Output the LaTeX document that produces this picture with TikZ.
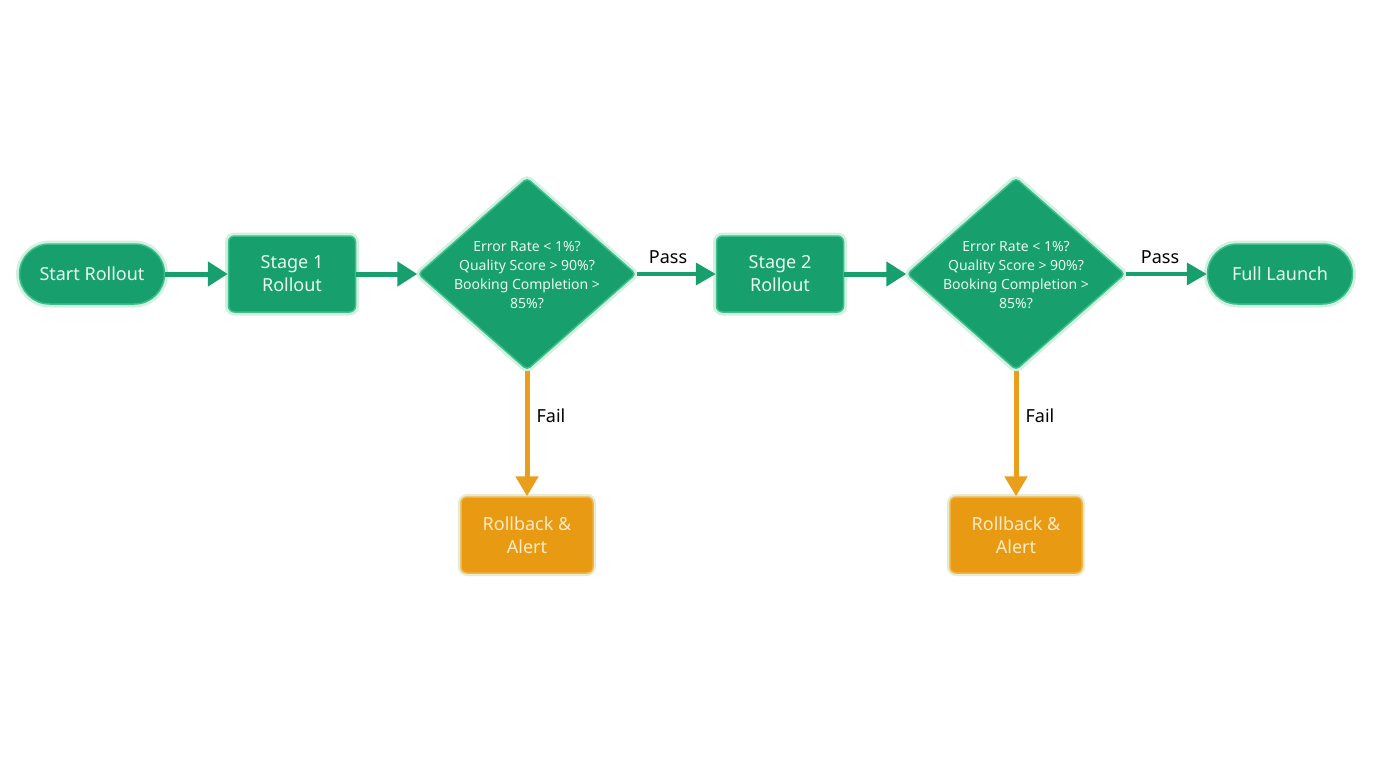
\documentclass[tikz,border=0pt]{standalone}
\usepackage{fontspec}
\setmainfont{Noto Sans}
\usetikzlibrary{shapes.geometric,arrows.meta}
\definecolor{gfill}{HTML}{17A06D}
\definecolor{gedge}{HTML}{3CBF8A}
\definecolor{gglow}{HTML}{BFEBD6}
\definecolor{gtext}{HTML}{EAF9F1}
\definecolor{ofill}{HTML}{E89A13}
\definecolor{oedge}{HTML}{F2B443}
\definecolor{otext}{HTML}{FCEBC6}
\definecolor{oline}{HTML}{EA9F1C}
\tikzset{
  glowg/.style={preaction={draw=gglow,line width=7pt,opacity=0.7}},
  glowo/.style={preaction={draw=gglow!70!oedge,line width=6pt,opacity=0.5}},
  pill/.style={draw=gedge,line width=1.5pt,fill=gfill,glowg,rounded corners=30pt,
    minimum width=145pt,minimum height=60pt,text=gtext,font=\fontsize{18}{21}\selectfont,inner sep=0pt},
  stagebox/.style={draw=gedge,line width=1.5pt,fill=gfill,glowg,rounded corners=6pt,
    minimum width=127pt,minimum height=76pt,text=gtext,font=\fontsize{18}{23}\selectfont,align=center,inner sep=0pt},
  decide/.style={diamond,draw=gedge,line width=1.5pt,fill=gfill,glowg,rounded corners=4pt,
    minimum width=218pt,minimum height=192pt,inner sep=0pt},
  decidetext/.style={text=gtext,font=\fontsize{14}{19}\selectfont,align=center,inner sep=0pt},
  alertbox/.style={draw=oedge,line width=1.5pt,fill=ofill,glowo,rounded corners=6pt,
    minimum width=132pt,minimum height=76pt,text=otext,font=\fontsize{18}{23}\selectfont,align=center,inner sep=0pt},
  garrow/.style={draw=gfill,line width=5pt,-{Triangle[length=20pt,width=24pt]}},
  parrow/.style={draw=gfill,line width=4pt,-{Triangle[length=20pt,width=22pt]}},
  oarrow/.style={draw=oline,line width=5pt,-{Triangle[length=20pt,width=22pt]}},
  edgelabel/.style={text=black,font=\fontsize{18}{20}\selectfont,inner sep=0pt},
}
\begin{document}
\begin{tikzpicture}[x=1pt,y=-1pt]
\useasboundingbox (0,0) rectangle (1376,768);
\fill[white] (0,0) rectangle (1376,768);
\node[pill] (start) at (92,274) {Start Rollout};
\node[stagebox] (s1) at (292,274) {Stage 1\\Rollout};
\node[decide] (d1) at (527,274) {};
\node[decidetext] (d1t) at (527,275) {Error Rate < 1\%?\\Quality Score > 90\%?\\Booking Completion >\\85\%?};
\node[stagebox] (s2) at (780,274) {Stage 2\\Rollout};
\node[decide] (d2) at (1016,274) {};
\node[decidetext] (d2t) at (1016,275) {Error Rate < 1\%?\\Quality Score > 90\%?\\Booking Completion >\\85\%?};
\node[pill] (full) at (1280,274) {Full Launch};
\node[alertbox] (r1) at (527,535) {Rollback \&\\Alert};
\node[alertbox] (r2) at (1016,535) {Rollback \&\\Alert};
\draw[garrow] (start.east) -- (s1.west);
\draw[garrow] (s1.east) -- (d1.west);
\draw[parrow] (d1.east) -- (s2.west);
\draw[garrow] (s2.east) -- (d2.west);
\draw[parrow] (d2.east) -- (full.west);
\draw[oarrow] (d1.south) -- (r1.north);
\draw[oarrow] (d2.south) -- (r2.north);
\node[edgelabel] (p1) at (668,257) {Pass};
\node[edgelabel] (p2) at (1160,257) {Pass};
\node[edgelabel] (f1) at (551,416) {Fail};
\node[edgelabel] (f2) at (1040,416) {Fail};
\end{tikzpicture}
\end{document}
